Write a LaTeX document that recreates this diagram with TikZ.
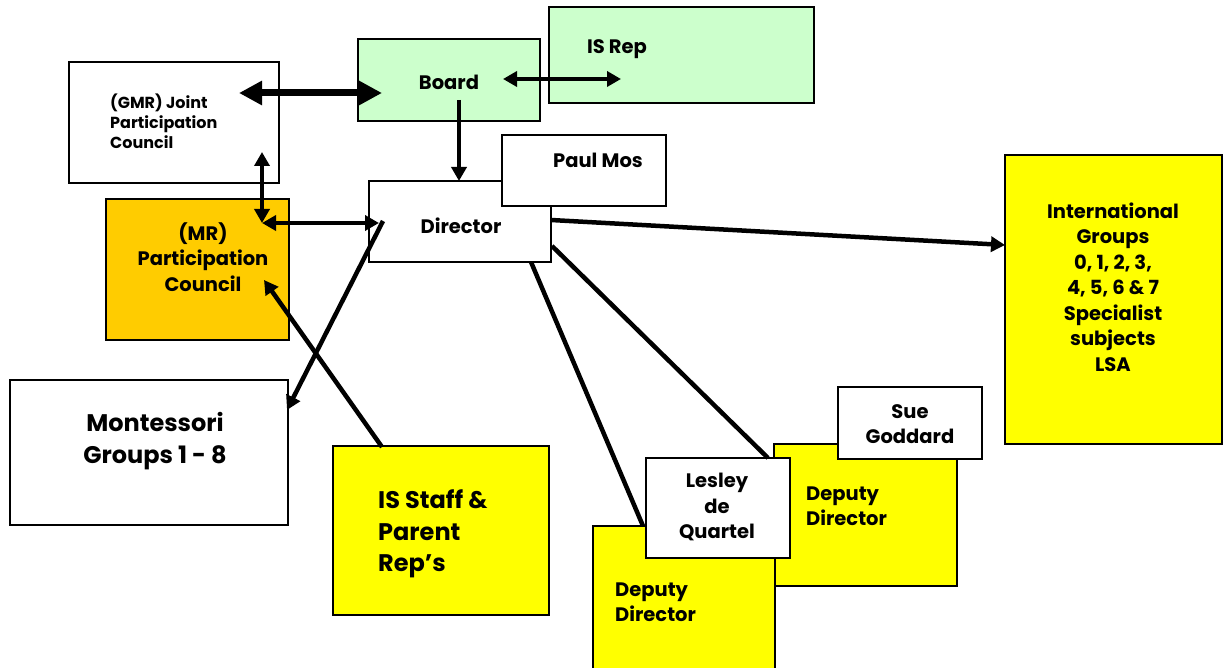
\documentclass[tikz,border=0pt]{standalone}
\usepackage{fontspec}
\setmainfont{Poppins}
\usetikzlibrary{arrows.meta}
\definecolor{boardgreen}{HTML}{CCFFCC}
\definecolor{mrorange}{HTML}{FFCC00}
\definecolor{yel}{HTML}{FFFF00}
\begin{document}
\begin{tikzpicture}[x=1pt,y=-1pt,
  box/.style={draw,fill=white,line width=2.3pt,anchor=north west,inner sep=0pt,outer sep=0pt},
  tsmall/.style={font=\bfseries\fontsize{16}{20}\selectfont,inner sep=0pt},
  tmid/.style={font=\bfseries\fontsize{19.5}{25.5}\selectfont,inner sep=0pt},
  tbig/.style={font=\bfseries\fontsize{24}{31.5}\selectfont,inner sep=0pt},
  conn/.style={line width=4.5pt},
  tipS/.style={-{Triangle[length=14pt,width=15pt]}},
  tipSS/.style={{Triangle[length=14pt,width=15pt]}-{Triangle[length=14pt,width=15pt]}},
]
\useasboundingbox (0,0) rectangle (1224,668);
% boxes with their texts
\node[box,minimum width=210pt,minimum height=121pt] (gmr) at (69,62) {};
\node[tsmall,align=left,anchor=west] (tgmr) at (110,121) {(GMR) Joint\\Participation\\Council};
\node[box,fill=boardgreen,minimum width=182pt,minimum height=82pt] (board) at (358,39) {};
\node[tmid] (tboard) at (449,82) {Board};
\node[box,fill=boardgreen,minimum width=265pt,minimum height=96pt] (isrep) at (549,7) {};
\node[tmid] (tisrep) at (617,49) {IS Rep};
\node[box,minimum width=182pt,minimum height=81pt] (director) at (369,181) {};
\node[tmid] (tdirector) at (461,226) {Director};
\node[box,minimum width=164pt,minimum height=71pt] (paul) at (502,135) {};
\node[tmid] (tpaul) at (598,160) {Paul Mos};
\node[box,fill=mrorange,minimum width=183pt,minimum height=141pt] (mr) at (106,199) {};
\node[tmid,align=center] (tmr) at (203,257) {(MR)\\Participation\\Council};
\node[box,minimum width=278pt,minimum height=145pt] (mont) at (10,380) {};
\node[tbig,align=center] (tmont) at (155,441) {Montessori\\Groups 1 - 8};
\node[box,fill=yel,minimum width=216pt,minimum height=169pt] (staff) at (333,446) {};
\node[tbig,align=left,anchor=west] (tstaff) at (378,534) {IS Staff \&\\Parent\\Rep’s};
\node[box,fill=yel,minimum width=217pt,minimum height=289pt] (intl) at (1005,155) {};
\node[tmid,align=center] (tintl) at (1113,287) {International\\Groups\\0, 1, 2, 3,\\4, 5, 6 \& 7\\Specialist\\subjects\\LSA};
\node[box,fill=yel,minimum width=183pt,minimum height=142pt] (dd2) at (774,444) {};
\node[tmid,align=left,anchor=west] (tdd2) at (806,506) {Deputy\\Director};
\node[box,minimum width=144pt,minimum height=72pt] (sue) at (838,387) {};
\node[tmid,align=center] (tsue) at (910,424) {Sue\\Goddard};
\node[box,fill=yel,minimum width=182pt,minimum height=150pt] (dd1) at (593,526) {};
\node[tmid,align=left,anchor=west] (tdd1) at (615,602) {Deputy\\Director};
\node[box,minimum width=144pt,minimum height=100pt] (lesley) at (646,458) {};
\node[tmid,align=center] (tlesley) at (717,507) {Lesley\\de\\Quartel};
% connector end points
\coordinate (gmrA) at (239,93);
\coordinate (boardA) at (382,93);
\coordinate (boardB) at (503,79);
\coordinate (isrepA) at (621,79);
\coordinate (boardC) at (459,100);
\coordinate (dirTop) at (459,181);
\coordinate (gmrB) at (262,152);
\coordinate (mrA) at (262,223);
\coordinate (dirA) at (379,223);
\coordinate (dirB) at (383,221);
\coordinate (montA) at (287,410);
\coordinate (staffA) at (382,447);
\coordinate (mrB) at (264,280);
\coordinate (dirC) at (551,220);
\coordinate (intlA) at (1005,245);
\coordinate (dirD) at (531,262);
\coordinate (dd1A) at (643,526);
\coordinate (dirE) at (552,246);
\coordinate (lesA) at (768,458);
% connectors
\draw[line width=7pt,{Triangle[length=23pt,width=23pt]}-{Triangle[length=23pt,width=23pt]}] (gmrA) -- (boardA);
\draw[conn,tipSS] (boardB) -- (isrepA);
\draw[conn,tipS] (boardC) -- (dirTop);
\draw[conn,tipSS] (gmrB) -- (mrA);
\draw[conn,tipSS] (mrA) -- (dirA);
\draw[conn,tipS] (dirB) -- (montA);
\draw[conn,tipS] (staffA) -- (mrB);
\draw[conn,tipS] (dirC) -- (intlA);
\draw[conn] (dirD) -- (dd1A);
\draw[conn] (dirE) -- (lesA);
\draw[line width=2.5pt] (706,458) -- (712,458);
\end{tikzpicture}
\end{document}
